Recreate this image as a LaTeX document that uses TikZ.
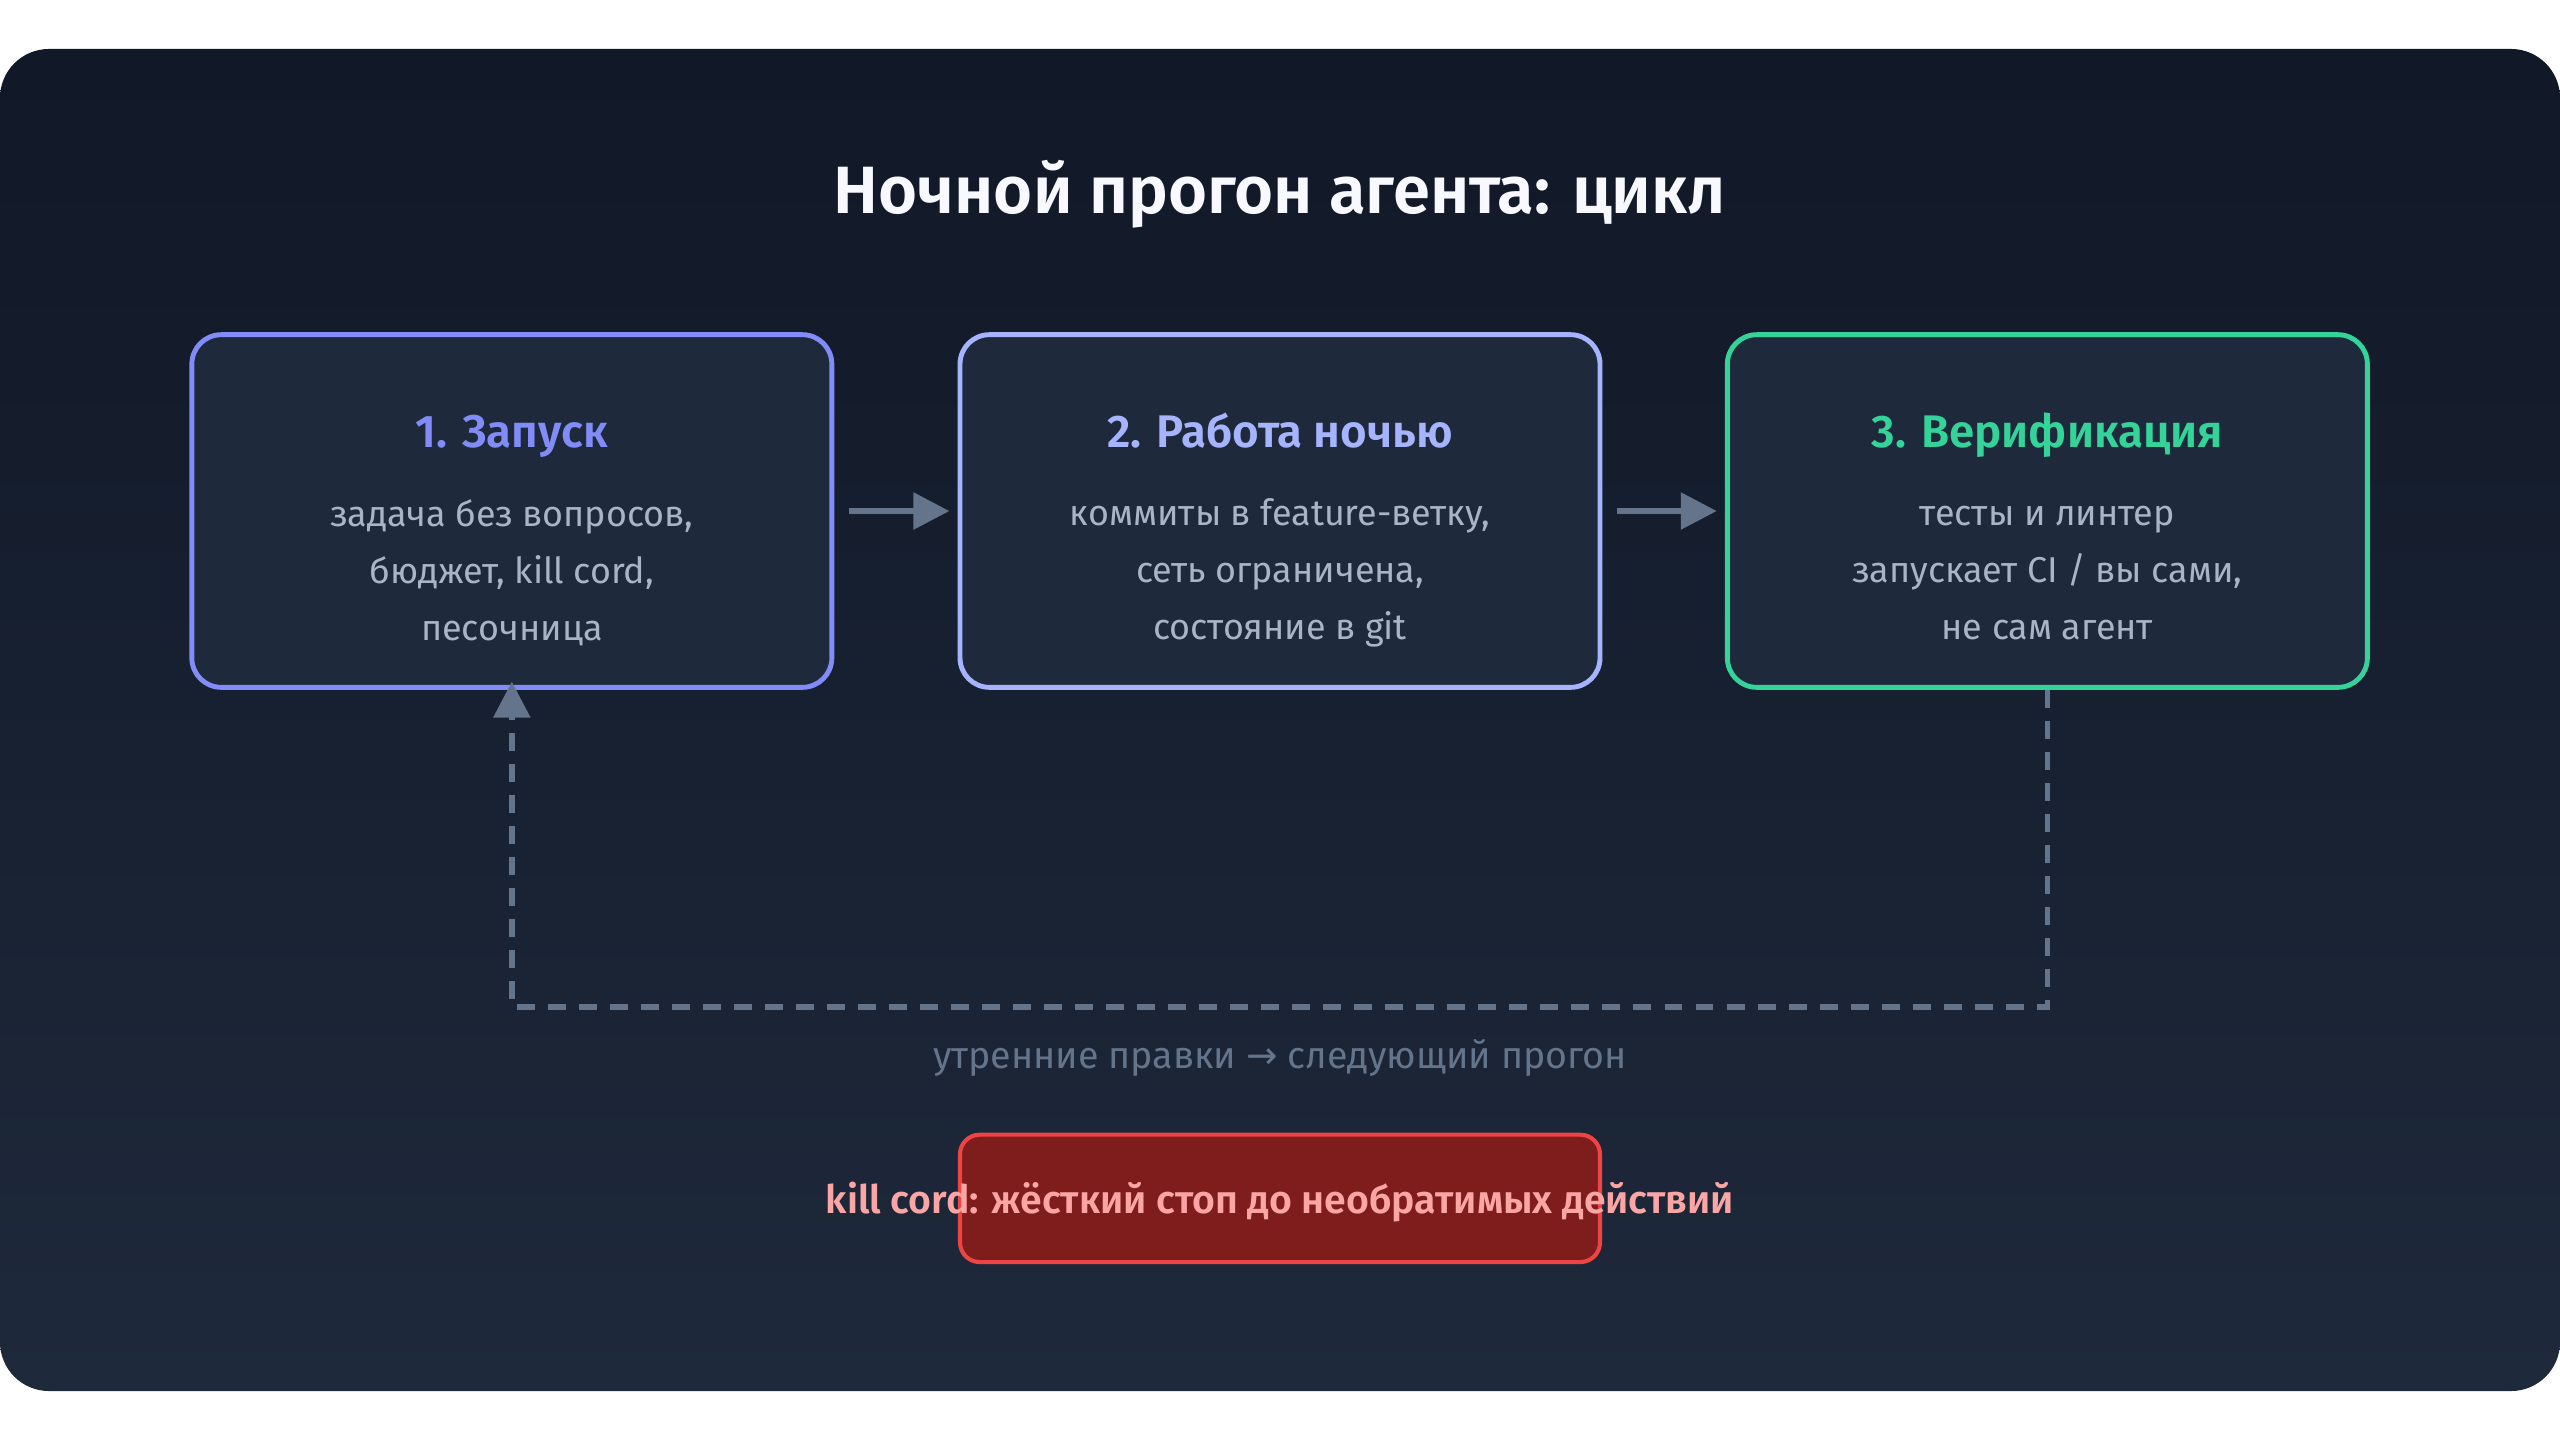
\documentclass[tikz,border=0pt]{standalone}
\usepackage{fontspec}
\setmainfont{Fira Sans}[BoldFont={Fira Sans SemiBold}]
\newfontfamily\arrowfont{DejaVu Sans}
\usetikzlibrary{arrows.meta,positioning}
\definecolor{bgtop}{HTML}{111827}
\definecolor{bgbot}{HTML}{1E293B}
\definecolor{boxfill}{HTML}{1E293B}
\definecolor{cstart}{HTML}{818CF8}
\definecolor{cwork}{HTML}{A5B4FC}
\definecolor{cverif}{HTML}{34D399}
\definecolor{bodytxt}{HTML}{A9B4C4}
\definecolor{muted}{HTML}{64748B}
\definecolor{killfill}{HTML}{7F1D1D}
\definecolor{killline}{HTML}{EF4444}
\definecolor{killtxt}{HTML}{FCA5A5}
\tikzset{
  stage/.style={draw, line width=3pt, rounded corners=18pt, fill=boxfill, minimum width=392pt, minimum height=216pt},
  head/.style={anchor=base, font=\fontsize{28}{32}\selectfont\bfseries},
  body/.style={text=bodytxt, align=center, font=\fontsize{22}{35}\selectfont},
  flow/.style={-{Triangle[length=22pt,width=22pt]}, line width=3.5pt, muted},
}
\begin{document}
\begin{tikzpicture}[x=1pt,y=-1pt]
\useasboundingbox (0,0) rectangle (1568,882);
\shade[top color=bgtop, bottom color=bgbot, rounded corners=30pt] (0,30) rectangle (1568,852);

\node [text=white!92!cwork, anchor=base, font=\fontsize{41}{48}\selectfont\bfseries] (title) at (784,131) {Ночной прогон агента: цикл};

\node [stage, draw=cstart] (start) at (313.5,313) {};
\node [stage, draw=cwork] (work) at (784,313) {};
\node [stage, draw=cverif] (verif) at (1254,313) {};

\node [head, text=cstart] (starth) at (313.5,274) {1. Запуск};
\node [head, text=cwork] (workh) at (784,274) {2. Работа ночью};
\node [head, text=cverif] (verifh) at (1254,274) {3. Верификация};
\node [body] (startb) at (313.5,351) {задача без вопросов,\\бюджет, kill cord,\\песочница};
\node [body] (workb) at (784,351) {коммиты в feature-ветку,\\сеть ограничена,\\состояние в git};
\node [body] (verifb) at (1254,351) {тесты и линтер\\запускает CI / вы сами,\\не сам агент};

\path [flow] ([xshift=9pt]start.east) edge ([xshift=-5pt]work.west);
\path [flow] ([xshift=9pt]work.east) edge ([xshift=-5pt]verif.west);
\draw [flow, dashed, dash pattern=on 11pt off 8pt] (verif.south) -- (1254,617) -- (313.5,617) -- ([yshift=5pt]start.south);

\node [text=muted, font=\fontsize{23}{26}\selectfont] (loop) at (784,648) {утренние правки {\arrowfont →} следующий прогон};

\node [draw=killline, line width=2.5pt, fill=killfill, rounded corners=12pt, minimum width=392pt, minimum height=78pt] (kill) at (784,734) {};
\node [text=killtxt, font=\fontsize{24}{28}\selectfont\bfseries] (killt) at (784,736) {kill cord: жёсткий стоп до необратимых действий};
\end{tikzpicture}
\end{document}
